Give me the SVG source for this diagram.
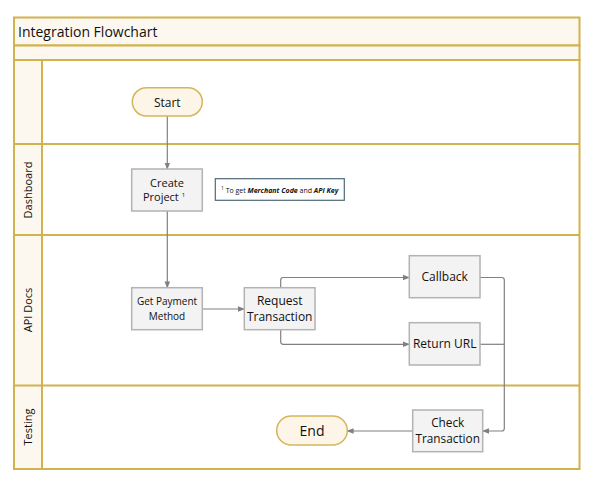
<svg xmlns="http://www.w3.org/2000/svg" width="597" height="488" viewBox="0 0 597 488">
<defs>
<style>
.lane{fill:none;stroke:#d2b24c;stroke-width:2}
.band{fill:#fdf8ef;stroke:#d2b24c;stroke-width:2}
.box{fill:#f3f3f3;stroke:#b3b3b3;stroke-width:1.5}
.term{fill:#fdf6e8;stroke:#d4b65a;stroke-width:1.5}
.t{font-family:"Segoe UI","Open Sans","Noto Sans",sans-serif;fill:#111;text-anchor:middle}
.conn{fill:none;stroke:#808080;stroke-width:1.2}
</style>
<marker id="arr" viewBox="0 0 10 10" refX="9" refY="5" markerWidth="7" markerHeight="7" orient="auto" markerUnits="userSpaceOnUse">
<path d="M0,1 L10,5 L0,9 Z" fill="#808080"/>
</marker>
</defs>
<rect width="597" height="488" fill="#fff"/>
<g id="pool">
<rect class="band" x="14" y="17.5" width="565.5" height="28"/>
<rect class="band" x="14" y="45.5" width="565.5" height="14.5"/>
<rect x="14" y="60" width="28" height="409" fill="#fdf8ef"/>
<rect class="lane" x="14" y="60" width="565.5" height="409"/>
<line class="lane" x1="42" y1="60" x2="42" y2="469"/>
<line class="lane" x1="14" y1="144" x2="579.5" y2="144"/>
<line class="lane" x1="14" y1="235" x2="579.5" y2="235"/>
<line class="lane" x1="14" y1="385.5" x2="579.5" y2="385.5"/>
<text class="t" x="18" y="37" font-size="14" style="text-anchor:start">Integration Flowchart</text>
<text class="t" font-size="11" transform="translate(32,190) rotate(-90)">Dashboard</text>
<text class="t" font-size="11" transform="translate(32,310) rotate(-90)">API Docs</text>
<text class="t" font-size="11" transform="translate(32,427) rotate(-90)">Testing</text>
</g>
<g id="connectors">
<line class="conn" x1="167.3" y1="116" x2="167.3" y2="169" marker-end="url(#arr)"/>
<line class="conn" x1="167.3" y1="211" x2="167.3" y2="287.7" marker-end="url(#arr)"/>
<line class="conn" x1="202.3" y1="309" x2="244.3" y2="309" marker-end="url(#arr)"/>
<path class="conn" d="M280.7,287.7 V280 Q280.7,277.5 283.2,277.5 H409.3" marker-end="url(#arr)"/>
<path class="conn" d="M280.7,329.7 V341.8 Q280.7,344.3 283.2,344.3 H409.3" marker-end="url(#arr)"/>
<path class="conn" d="M480,277.5 H501.8 Q504.3,277.5 504.3,280 V428.5 Q504.3,431 501.8,431 H482.7" marker-end="url(#arr)"/>
<line class="conn" x1="480" y1="344.3" x2="504.3" y2="344.3"/>
<line class="conn" x1="412.7" y1="431" x2="347.3" y2="431" marker-end="url(#arr)"/>
</g>
<g id="start">
<rect class="term" x="132.3" y="87.7" width="70" height="28.3" rx="14.2"/>
<text class="t" x="167.3" y="106.5" font-size="12">Start</text>
</g>
<g id="create-project">
<rect class="box" x="131.7" y="169" width="70.6" height="42"/>
<text class="t" x="167" y="187" font-size="11">Create</text>
<text class="t" x="164" y="201" font-size="11">Project <tspan font-size="6" dy="-4">1</tspan></text>
</g>
<g id="note">
<rect x="215.3" y="178.7" width="129" height="21.6" fill="#fff" stroke="#4d6b78" stroke-width="1.2"/>
<text class="t" x="279.8" y="192.5" font-size="7"><tspan font-size="4.5" dy="-2.5">1</tspan><tspan dy="2.5"> To get </tspan><tspan font-weight="bold" font-style="italic">Merchant Code</tspan> and <tspan font-weight="bold" font-style="italic">API Key</tspan></text>
</g>
<g id="get-payment-method">
<rect class="box" x="131.7" y="287.7" width="70.6" height="42"/>
<text class="t" x="167" y="305" font-size="10">Get Payment</text>
<text class="t" x="167" y="320" font-size="10">Method</text>
</g>
<g id="request-transaction">
<rect class="box" x="244.3" y="287.7" width="70.7" height="42"/>
<text class="t" x="279.7" y="305" font-size="12">Request</text>
<text class="t" x="279.7" y="321" font-size="12">Transaction</text>
</g>
<g id="callback">
<rect class="box" x="409.3" y="255.7" width="70.7" height="42"/>
<text class="t" x="444.7" y="281" font-size="12">Callback</text>
</g>
<g id="return-url">
<rect class="box" x="409.3" y="322.7" width="70.7" height="42.3"/>
<text class="t" x="444.7" y="348" font-size="12">Return URL</text>
</g>
<g id="check-transaction">
<rect class="box" x="412.7" y="410" width="70" height="41.7"/>
<text class="t" x="447.7" y="427" font-size="11.8">Check</text>
<text class="t" x="447.7" y="443" font-size="11.8">Transaction</text>
</g>
<g id="end">
<rect class="term" x="276.7" y="416" width="70.6" height="29" rx="14.5"/>
<text class="t" x="312" y="436" font-size="14">End</text>
</g>
</svg>
